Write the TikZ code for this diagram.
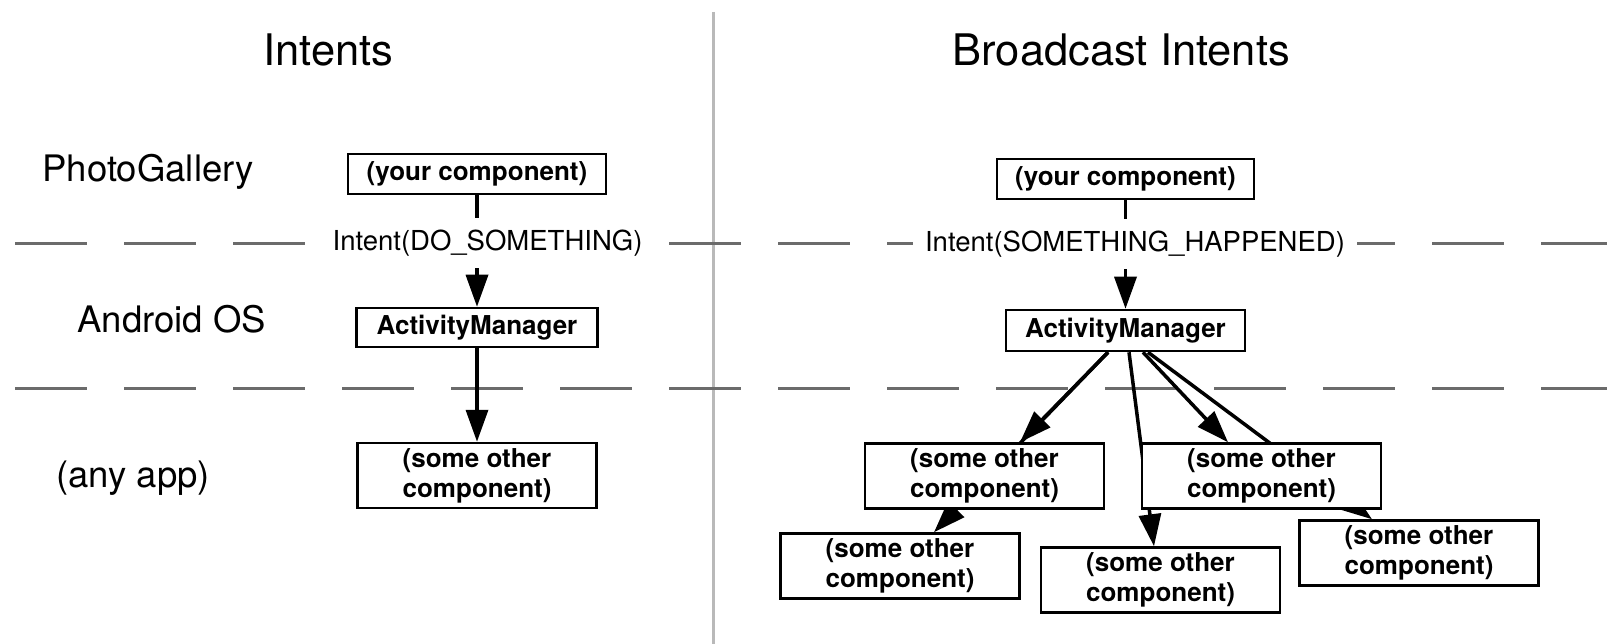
\documentclass[tikz,border=0pt]{standalone}
\usepackage{fontspec}
\setmainfont{TeX Gyre Heros}
\usetikzlibrary{arrows.meta,backgrounds}

\begin{document}
\begin{tikzpicture}[x=1pt, y=-1pt, >={Triangle[length=32pt,width=22pt]},
    comp/.style={draw, line width=2.5pt, fill=white, inner sep=0pt, minimum width=239pt, minimum height=65pt, align=center, font=\fontsize{26}{30}\selectfont\bfseries},
    flow/.style={->, line width=3.5pt},
    layer/.style={draw=black!58, line width=3pt, dash pattern=on 72pt off 37pt},
    divider/.style={draw=gray!55, line width=3pt},
    intent/.style={fill=white, inner sep=12pt, font=\fontsize{27.5}{30}\selectfont},
    title/.style={anchor=base west, font=\fontsize{43.5}{48}\selectfont},
    side/.style={anchor=base west, font=\fontsize{36.5}{40}\selectfont}]
        \useasboundingbox (0,0) rectangle (1607,644);
        % headings and layer names
        \node[title] (tl) at (260,66) {Intents};
        \node[title] (tr) at (949,66) {Broadcast Intents};
        \node[side] (photo) at (39,182) {PhotoGallery};
        \node[side] (android) at (74,333) {Android OS};
        \node[side] (anyapp) at (53,487) {(any app)};
        % plain intent
        \node[comp, minimum width=258pt, minimum height=40pt] (yourL) at (477,174) {(your component)};
        \node[intent] (intentL) at (487.5,243) {Intent(DO\_SOMETHING)};
        \node[comp, minimum width=241pt, minimum height=39pt] (amL) at (477,327.5) {ActivityManager};
        \node[comp] (otherL) at (477,475.5) {(some other\\component)};
        % broadcast intent
        \node[comp, minimum width=257pt, minimum height=40pt] (yourR) at (1125.5,179) {(your component)};
        \node[intent] (intentR) at (1135,244) {Intent(SOMETHING\_HAPPENED)};
        \node[comp, minimum height=41pt] (amR) at (1125.5,330.5) {ActivityManager};
        \node[comp] (otherA) at (984.5,476) {(some other\\component)};
        \node[comp] (otherB) at (1261.5,476) {(some other\\component)};
        \node[comp] (otherC) at (900,566) {(some other\\component)};
        \node[comp] (otherD) at (1160.5,580) {(some other\\component)};
        \node[comp] (otherE) at (1419,553) {(some other\\component)};
        \begin{scope}[on background layer]
            \draw[divider] (713.5,12) -- (713.5,644);
            \draw[layer] (15,244) -- (1607,244);
            \draw[layer] (15,388) -- (1607,388);
            \draw[flow] (yourL) -- (amL);
            \draw[flow] (amL) -- (otherL);
            \draw[flow] (yourR) -- (amR);
            \draw[flow] ([xshift=-17.5pt]amR.south) -- ([xshift=35.5pt]otherA.north);
            \draw[flow] ([xshift=-17.5pt]amR.south) -- ([xshift=34pt]otherC.north);
            \draw[flow] ([xshift=3.5pt]amR.south) -- ([xshift=-6.5pt]otherD.north);
            \draw[flow] ([xshift=17.5pt]amR.south) -- ([xshift=-33.5pt]otherB.north);
            \draw[flow] ([xshift=22.5pt]amR.south) -- ([xshift=-47pt]otherE.north);
        \end{scope}
\end{tikzpicture}
\end{document}
